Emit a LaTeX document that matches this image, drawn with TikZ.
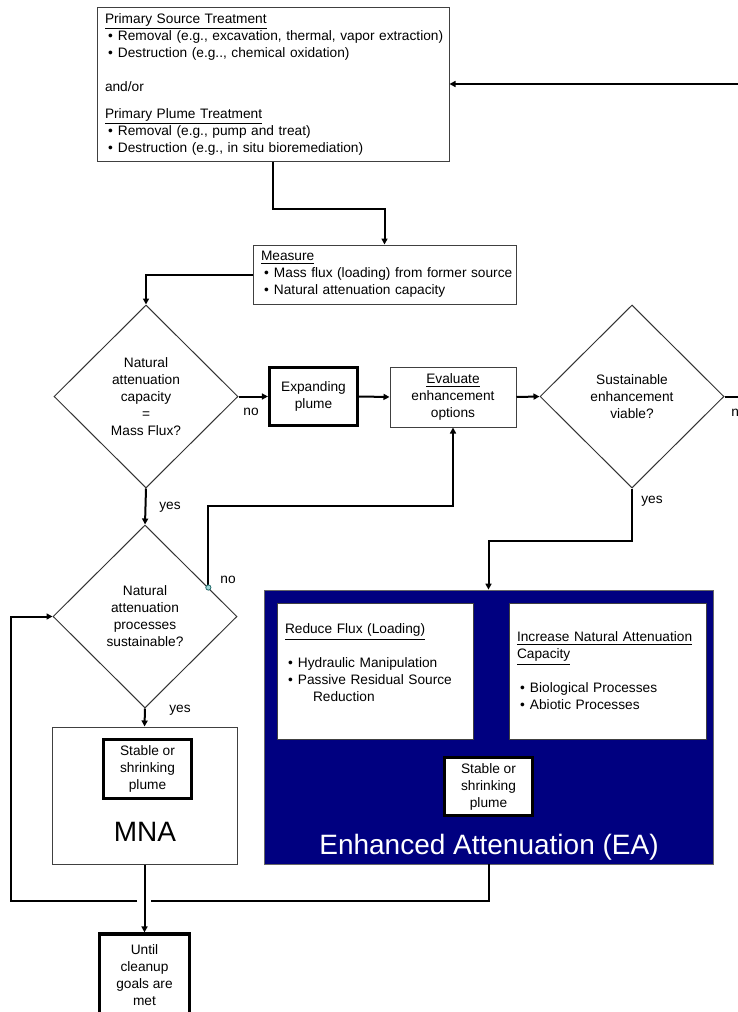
\documentclass[tikz,border=0pt]{standalone}
\usepackage{fontspec}
\setmainfont{Liberation Sans}
\usetikzlibrary{shapes.geometric,arrows.meta,calc}
\definecolor{eablue}{RGB}{0,0,128}
\definecolor{dotfill}{RGB}{160,215,215}
\definecolor{dotline}{RGB}{40,110,110}
\newcommand{\bul}[1]{\mbox{\hspace*{1.5pt}\makebox[5pt][l]{\textbullet}#1}}
\tikzset{
  box/.style={draw=black!75,line width=0.5pt,inner sep=0pt,inner xsep=4pt,align=left},
  thickbox/.style={draw,line width=1.6pt,fill=white,inner sep=0pt,align=center},
  decision/.style={diamond,draw=black!80,line width=0.5pt,inner sep=0pt,align=center,
    minimum width=92pt,minimum height=91.5pt},
  link/.style={line width=1pt},
  biglbl/.style={font=\fontsize{14}{16}\selectfont}
}
\begin{document}
\begin{tikzpicture}[x=0.5pt,y=-0.5pt,>={Triangle[length=3pt,width=3pt]},
    every node/.append style={font=\fontsize{6.85}{8.5}\selectfont}]
  \useasboundingbox (0,0) rectangle (738,1012);
  \clip (0,0) rectangle (738,1012);
  % treatment and measuring
  \node[box,text width=168pt,minimum height=77pt] (treat) at (273,84) {\underline{Primary Source Treatment}\\
    \bul{Removal (e.g., excavation, thermal, vapor extraction)}\\
    \bul{Destruction (e.g.., chemical oxidation)}\\[8.5pt]
    and/or\\[5pt]
    \underline{Primary Plume Treatment}\\
    \bul{Removal (e.g., pump and treat)}\\
    \bul{Destruction (e.g., in situ bioremediation)}};
  \node[box,text width=123.5pt,minimum height=29.5pt] (measure) at (384.5,274.5) {\underline{Measure}\\
    \bul{Mass flux (loading) from former source}\\
    \bul{Natural attenuation capacity}};
  % decisions
  \node[decision] (d1) at (146,396.5) {Natural\\attenuation\\capacity\\=\\Mass Flux?};
  \node[decision] (d2) at (632,396.5) {Sustainable\\enhancement\\viable?};
  \node[decision] (d3) at (145,616.5) {Natural\\attenuation\\processes\\sustainable?};
  \node[thickbox,minimum width=44pt,minimum height=29pt] (expand) at (313.5,396.5) {Expanding\\plume};
  \node[box,align=center,minimum width=63pt,minimum height=30pt] (eval) at (453,397) {\underline{Evaluate}\\enhancement\\options};
  % MNA
  \node[box,minimum width=92.5pt,minimum height=68.5pt] (mna) at (144.5,795.5) {};
  \node[thickbox,minimum width=44pt,minimum height=29.5pt] (stable1) at (147.5,769) {Stable or\\shrinking\\plume};
  \node[biglbl] (mnalbl) at (145,832) {MNA};
  % EA
  \node[draw=black!60,fill=eablue,minimum width=224.5pt,minimum height=137pt] (ea) at (488.5,727) {};
  \node[box,fill=white,text width=90pt,minimum height=68pt] (reduce) at (375,671) {\underline{Reduce Flux (Loading)}\\[8.5pt]
    \bul{Hydraulic Manipulation}\\
    \bul{Passive Residual Source}\\
    \hspace*{14pt}Reduction\\ ~};
  \node[box,fill=white,text width=90.5pt,minimum height=68pt] (increase) at (607.5,671) {\underline{Increase Natural Attenuation}\\
    \underline{Capacity}\\[8.5pt]
    \bul{Biological Processes}\\
    \bul{Abiotic Processes}};
  \node[thickbox,minimum width=44pt,minimum height=29pt] (stable2) at (488.5,786.5) {Stable or\\shrinking\\plume};
  \node[biglbl,text=white] (ealbl) at (489,847) {Enhanced Attenuation (EA)};
  \node[thickbox,minimum width=45pt,minimum height=41pt] (until) at (144.5,975) {Until\\cleanup\\goals are\\met};
  % connectors
  \draw[link,->] (treat.south) -- ++(0,47) -| (measure.north);
  \draw[link,->] (measure.west) -| (d1.north);
  \draw[link,->] (d1.east) -- (expand.west);
  \draw[link,->] (expand.east) -- (eval.west);
  \draw[link,->] (eval.east) -- (d2.west);
  \draw[link,->] (d2.east) -- ++(40,0) |- (treat.east);
  \draw[link,->] (d2.south) -- ++(0,52) -| (ea.north);
  \draw[link,->] (d1.south) -- (d3.north);
  \coordinate (d3no) at ($(d3.north)!0.685!(d3.east)$);
  \draw[link,->] (d3no) -- ++(0,-82) -| (eval.south);
  \draw[draw=dotline,fill=dotfill,line width=0.4pt] (d3no) circle[radius=1.3pt];
  \draw[link,->] (d3.south) -- (mna.north);
  \draw[link,->] (mna.south) -- (until.north);
  \coordinate (gapr) at (151,901);
  \coordinate (gapl) at (137,901);
  \coordinate (loopc) at (11,901);
  \draw[link] (ea.south) |- (gapr);
  \draw[link,->] (gapl) -- (loopc) |- (d3.west);
  % labels
  \node (no1) at (251,412) {no};
  \node (yes1) at (170,507) {yes};
  \node (no3) at (228,580) {no};
  \node (yes3) at (180,710) {yes};
  \node (yes2) at (652,501) {yes};
  \node[anchor=west,inner sep=0pt] (no2) at (731,413) {no};
\end{tikzpicture}
\end{document}
